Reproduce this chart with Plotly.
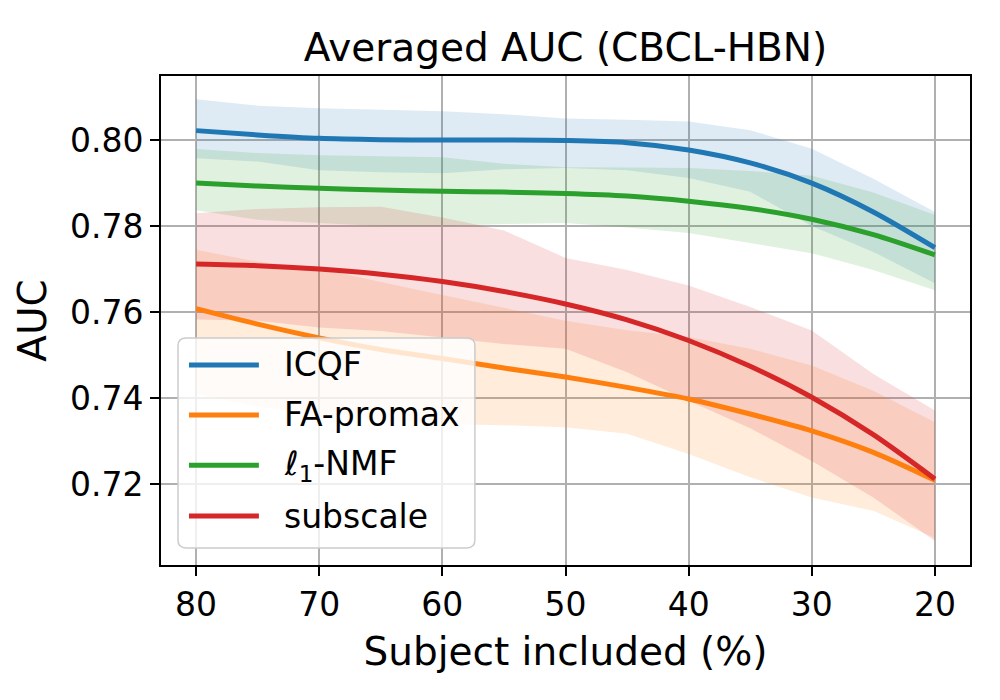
import plotly.graph_objects as go

# subject inclusion (%) on the x axis
subject_pct = [80, 75, 70, 65, 60, 55, 50, 45, 40, 35, 30, 25, 20]

icqf = [0.8022, 0.8012, 0.8004, 0.8001, 0.8000, 0.8000, 0.7999, 0.7994, 0.7977, 0.7947, 0.7900, 0.7833, 0.7750]
icqf_hi = [0.8095, 0.8080, 0.8074, 0.8070, 0.8067, 0.8060, 0.8050, 0.8047, 0.8043, 0.8023, 0.7980, 0.7910, 0.7833]
icqf_lo = [0.7958, 0.7950, 0.7930, 0.7925, 0.7923, 0.7932, 0.7935, 0.7930, 0.7912, 0.7880, 0.7800, 0.7740, 0.7667]

fa_promax = [0.7608, 0.7572, 0.7540, 0.7513, 0.7492, 0.7470, 0.7449, 0.7425, 0.7398, 0.7363, 0.7324, 0.7274, 0.7209]
fa_promax_hi = [0.7745, 0.7717, 0.7702, 0.7670, 0.7640, 0.7610, 0.7580, 0.7558, 0.7542, 0.7515, 0.7476, 0.7417, 0.7344]
fa_promax_lo = [0.7410, 0.7380, 0.7360, 0.7350, 0.7340, 0.7337, 0.7332, 0.7317, 0.7270, 0.7216, 0.7169, 0.7138, 0.7075]

l1_nmf = [0.7900, 0.7893, 0.7888, 0.7884, 0.7881, 0.7879, 0.7876, 0.7870, 0.7858, 0.7841, 0.7816, 0.7780, 0.7733]
l1_nmf_hi = [0.7979, 0.7970, 0.7965, 0.7962, 0.7960, 0.7945, 0.7937, 0.7936, 0.7935, 0.7928, 0.7917, 0.7878, 0.7826]
l1_nmf_lo = [0.7837, 0.7815, 0.7807, 0.7800, 0.7800, 0.7805, 0.7807, 0.7797, 0.7784, 0.7760, 0.7737, 0.7698, 0.7651]

subscale = [0.7712, 0.7708, 0.7700, 0.7688, 0.7671, 0.7648, 0.7619, 0.7582, 0.7534, 0.7474, 0.7402, 0.7315, 0.7212]
subscale_hi = [0.7830, 0.7840, 0.7844, 0.7845, 0.7820, 0.7790, 0.7726, 0.7698, 0.7662, 0.7612, 0.7557, 0.7456, 0.7371]
subscale_lo = [0.7583, 0.7580, 0.7564, 0.7556, 0.7541, 0.7526, 0.7515, 0.7460, 0.7394, 0.7330, 0.7254, 0.7169, 0.7068]

methods = ["ICQF", "FA-promax", "ℓ<sub>1</sub>-NMF", "subscale"]
colors = ["#1f77b4", "#ff7f0e", "#2ca02c", "#d62728"]
fills = ["rgba(31,119,180,0.15)", "rgba(255,127,14,0.15)", "rgba(44,160,44,0.15)", "rgba(214,39,40,0.15)"]
means = [icqf, fa_promax, l1_nmf, subscale]
uppers = [icqf_hi, fa_promax_hi, l1_nmf_hi, subscale_hi]
lowers = [icqf_lo, fa_promax_lo, l1_nmf_lo, subscale_lo]

FONT = "DejaVu Sans"

fig = go.Figure()

# shaded bands first
for hi, lo, fc in zip(uppers, lowers, fills):
    fig.add_trace(go.Scatter(x=subject_pct, y=hi, mode="lines", line=dict(width=0),
                             showlegend=False, hoverinfo="skip"))
    fig.add_trace(go.Scatter(x=subject_pct, y=lo, mode="lines", line=dict(width=0),
                             fill="tonexty", fillcolor=fc, showlegend=False, hoverinfo="skip"))

# mean curves on top
for name, m, c in zip(methods, means, colors):
    fig.add_trace(go.Scatter(x=subject_pct, y=m, mode="lines", name=name,
                             line=dict(color=c, width=5, shape="spline", smoothing=0.8),
                             showlegend=False))

# legend box drawn by hand (matplotlib style)
x0, x1, y0, y1 = 0.021, 0.388, 0.035, 0.464
rx, ry = 0.010, 0.016
box = (f"M {x0+rx},{y0} L {x1-rx},{y0} Q {x1},{y0} {x1},{y0+ry} L {x1},{y1-ry} "
       f"Q {x1},{y1} {x1-rx},{y1} L {x0+rx},{y1} Q {x0},{y1} {x0},{y1-ry} "
       f"L {x0},{y0+ry} Q {x0},{y0} {x0+rx},{y0} Z")
fig.add_shape(type="path", path=box, xref="paper", yref="paper", layer="above",
              fillcolor="rgba(255,255,255,0.8)", line=dict(color="#cccccc", width=1.5))
item_y = [0.409, 0.307, 0.204, 0.100]
for name, c, yy in zip(methods, colors, item_y):
    fig.add_shape(type="line", xref="paper", yref="paper", x0=0.0346, x1=0.121, y0=yy, y1=yy,
                  line=dict(color=c, width=5), layer="above")
    fig.add_annotation(text=name, xref="paper", yref="paper", x=0.150, y=yy,
                       xanchor="left", yanchor="middle", showarrow=False,
                       font=dict(family=FONT, size=33, color="black"))

axis_style = dict(showline=True, linecolor="black", linewidth=2, mirror=True,
                  ticks="outside", ticklen=9, tickwidth=2, tickcolor="black",
                  showgrid=True, gridcolor="#b0b0b0", gridwidth=2, zeroline=False,
                  tickfont=dict(family=FONT, size=33, color="black"))

# page body adds an 8px offset, so the figure is 992x692
W, H = 992, 692
fig.update_layout(
    width=W, height=H,
    margin=dict(l=153, r=30, t=68, b=135),
    paper_bgcolor="white", plot_bgcolor="white",
    font=dict(family=FONT, color="black"),
    title=dict(text="Averaged AUC (CBCL-HBN)", x=0.5, xref="paper", xanchor="center",
               y=1 - 39 / H, yref="container", yanchor="middle",
               font=dict(family=FONT, size=39, color="black")),
    xaxis=dict(range=[82.85, 17.15], tickvals=[80, 70, 60, 50, 40, 30, 20],
               title=dict(text="Subject included (%)", font=dict(family=FONT, size=39), standoff=15),
               **axis_style),
    yaxis=dict(range=[0.7012, 0.8149], tickvals=[0.72, 0.74, 0.76, 0.78, 0.80], tickformat=".2f",
               title=dict(text="AUC", font=dict(family=FONT, size=39), standoff=11),
               **axis_style),
)

fig.write_html("out.html")
